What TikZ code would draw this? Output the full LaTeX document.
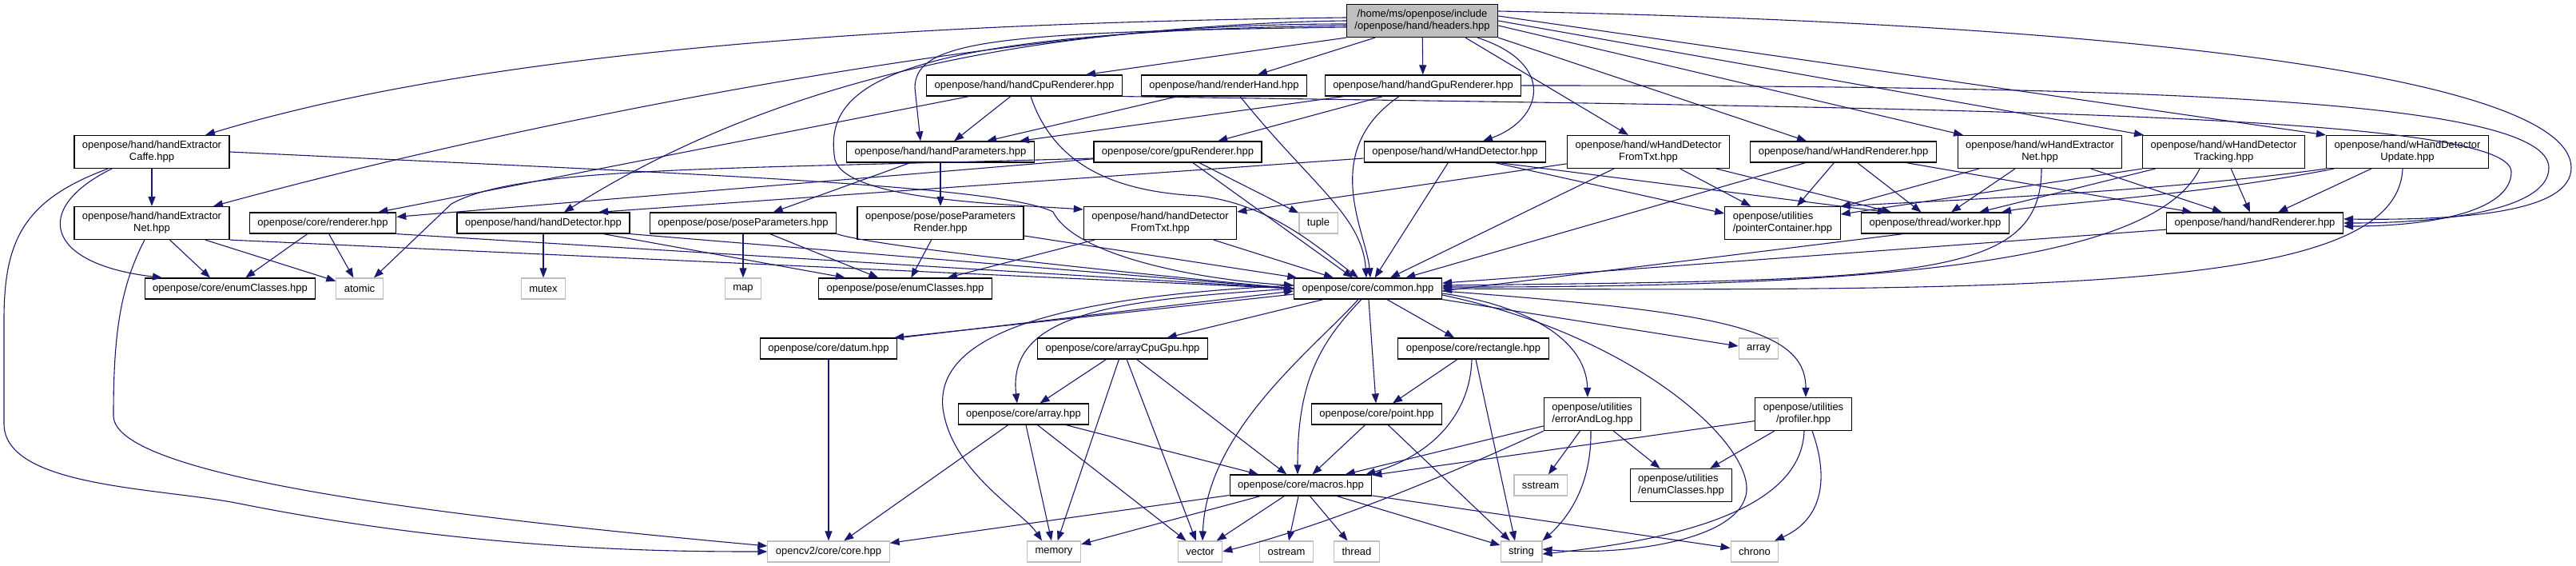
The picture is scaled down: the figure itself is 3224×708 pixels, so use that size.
\documentclass[tikz,border=0pt]{standalone}
\usepackage{fontspec}
\setsansfont{Liberation Sans}
\usetikzlibrary{arrows.meta}
\definecolor{cnavy}{HTML}{191970}
\definecolor{cgrey}{HTML}{BFBFBF}
\tikzset{
  every picture/.style={font=\sffamily\fontsize{13}{15}\selectfont},
  file/.style={draw=black, fill=white, line width=1.2pt, inner xsep=10pt, inner ysep=3pt, minimum height=26pt, align=center},
  twoline/.style={file, minimum height=41pt},
  sysfile/.style={file, draw=cgrey},
  rootfile/.style={twoline, fill=cgrey},
  inc/.style={-{Triangle[length=12pt, width=9pt]}, draw=cnavy, line width=1.1pt},
}

\begin{document}
\begin{tikzpicture}[x=1pt, y=1pt]
  \useasboundingbox (0,0) rectangle (3224,-708);

  % the header itself
  \node[rootfile] (H) at (1780,-26) {/home/ms/openpose/include\\/openpose/hand/headers.hpp};

  % hand and pose headers
  \node[file] (hcr) at (1282,-107) {openpose/hand/handCpuRenderer.hpp};
  \node[file] (rh) at (1532,-107) {openpose/hand/renderHand.hpp};
  \node[file] (hgr) at (1781,-107) {openpose/hand/handGpuRenderer.hpp};
  \node[twoline] (hec) at (190,-190) {openpose/hand/handExtractor\\Caffe.hpp};
  \node[file] (hp) at (1177,-190) {openpose/hand/handParameters.hpp};
  \node[file] (gr) at (1474,-190) {openpose/core/gpuRenderer.hpp};
  \node[file] (whd) at (1821,-190) {openpose/hand/wHandDetector.hpp};
  \node[twoline] (whdft) at (2063,-190) {openpose/hand/wHandDetector\\FromTxt.hpp};
  \node[file] (whr) at (2307,-190) {openpose/hand/wHandRenderer.hpp};
  \node[twoline] (when) at (2553,-190) {openpose/hand/wHandExtractor\\Net.hpp};
  \node[twoline] (whdt) at (2783,-190) {openpose/hand/wHandDetector\\Tracking.hpp};
  \node[twoline] (whdu) at (3013,-190) {openpose/hand/wHandDetector\\Update.hpp};
  \node[twoline] (hen) at (190,-279) {openpose/hand/handExtractor\\Net.hpp};
  \node[file] (rd) at (404,-279) {openpose/core/renderer.hpp};
  \node[file] (hd) at (680,-279) {openpose/hand/handDetector.hpp};
  \node[file] (pp) at (930,-279) {openpose/pose/poseParameters.hpp};
  \node[twoline] (ppr) at (1177,-279) {openpose/pose/poseParameters\\Render.hpp};
  \node[twoline] (hdft) at (1452,-279) {openpose/hand/handDetector\\FromTxt.hpp};
  \node[sysfile] (tup) at (1650,-279) {tuple};
  \node[twoline, align=left] (pc) at (2231,-279) {openpose/utilities\\/pointerContainer.hpp};
  \node[file] (wk) at (2422,-279) {openpose/thread/worker.hpp};
  \node[file] (hr) at (2822,-279) {openpose/hand/handRenderer.hpp};

  % core headers
  \node[file] (ec) at (288,-361) {openpose/core/enumClasses.hpp};
  \node[sysfile] (atomic) at (450,-361) {atomic};
  \node[sysfile] (mutex) at (680,-361) {mutex};
  \node[sysfile] (map) at (930,-361) {map};
  \node[file] (pec) at (1133,-361) {openpose/pose/enumClasses.hpp};
  \node[file] (cm) at (1712,-361) {openpose/core/common.hpp};
  \node[file] (dm) at (1037,-436) {openpose/core/datum.hpp};
  \node[file] (acg) at (1405,-436) {openpose/core/arrayCpuGpu.hpp};
  \node[file] (rc) at (1844,-436) {openpose/core/rectangle.hpp};
  \node[sysfile] (sar) at (2201,-436) {array};
  \node[file] (ar) at (1281,-518) {openpose/core/array.hpp};
  \node[file] (pt) at (1723,-518) {openpose/core/point.hpp};
  \node[twoline, align=left] (el) at (1993,-518) {openpose/utilities\\/errorAndLog.hpp};
  \node[twoline] (pf) at (2257,-518) {openpose/utilities\\/profiler.hpp};
  \node[file] (mc) at (1628,-607) {openpose/core/macros.hpp};
  \node[sysfile] (ss) at (1928,-607) {sstream};
  \node[twoline, align=left] (uec) at (2104,-607) {openpose/utilities\\/enumClasses.hpp};

  % system headers at the bottom
  \node[sysfile] (cv) at (1037,-690) {opencv2/core/core.hpp};
  \node[sysfile] (mem) at (1319,-690) {memory};
  \node[sysfile] (vec) at (1502,-690) {vector};
  \node[sysfile] (ost) at (1610,-690) {ostream};
  \node[sysfile] (thr) at (1698,-690) {thread};
  \node[sysfile] (str) at (1904,-690) {string};
  \node[sysfile] (ch) at (2196,-690) {chrono};

  % plain includes
  \foreach \a/\b in {hec/hen, hen/atomic, rd/ec, rd/atomic, hd/mutex, hd/pec, pp/map, pp/pec,
      ppr/pec, ppr/cm, hdft/pec, hdft/cm, hp/pp, hp/ppr, hcr/hp, hcr/rd, rh/hp, hgr/hp, hgr/gr,
      H/hgr, gr/rd, gr/tup, gr/cm, whd/cm, whdft/hdft, whdft/cm, whdft/pc, whdft/wk, whr/cm,
      whr/pc, whr/wk, whr/hr, when/pc, when/wk, when/hr, whdt/wk, whdt/hr, whdu/hr, hr/cm,
      cm/acg, cm/pt, cm/rc, dm/cv, acg/ar, acg/mem, acg/vec, acg/mc, ar/cv, ar/mem, ar/vec,
      ar/mc, pt/mc, pt/str, rc/pt, el/mc, el/ss, el/uec, pf/mc, pf/uec, mc/cv, mc/mem, mc/vec,
      mc/ost, mc/thr, mc/str, mc/ch}
    \draw[inc] (\a) -- (\b);

  % from the header
  \draw[inc] ([yshift=4pt]H.west) .. controls (1000,-30) and (550,-80) .. ([xshift=67pt]hec.north);
  \draw[inc] (H.west) .. controls (1300,-30) and (700,-140) .. ([xshift=77pt]hen.north);
  \draw[inc] ([yshift=-4pt]H.west) .. controls (1350,-30) and (1000,-80) .. ([xshift=26pt]hd.north);
  \draw[inc] ([yshift=-8pt]H.west) .. controls (1250,-40) and (1145,-50) .. (1145,-110) -- ([xshift=-25pt]hp.north);
  \draw[inc] ([yshift=-6pt]H.west) .. controls (1100,-40) and (1030,-110) .. (1045,-200)
    .. controls (1060,-250) and (1250,-255) .. ([yshift=17pt]hdft.west);
  \draw[inc] (H.south west) -- ([xshift=77pt]hcr.north);
  \draw[inc] ([xshift=-59pt]H.south) -- ([xshift=42pt]rh.north);
  \draw[inc] ([xshift=69pt]H.south) .. controls (1950,-80) and (1930,-150) .. ([xshift=35pt]whd.north);
  \draw[inc] ([xshift=54pt]H.south) -- ([xshift=-25pt]whdft.north);
  \draw[inc] (H.south east) -- ([xshift=-46pt]whr.north);
  \draw[inc] ([yshift=-6pt]H.east) -- ([xshift=-96pt]when.north);
  \draw[inc] (H.east) -- ([xshift=-100pt]whdt.north);
  \draw[inc] ([yshift=6pt]H.east) -- (whdu.north west);
  \draw[inc] ([yshift=12pt]H.east) .. controls (2700,-30) and (3218,-100) .. (3218,-210)
    .. controls (3218,-262) and (3100,-276) .. ([yshift=5pt]hr.east);

  % long ways round
  \draw[inc] (hgr.east) .. controls (2700,-107) and (3190,-125) .. (3190,-210)
    .. controls (3190,-262) and (3060,-279) .. (hr.east);
  \draw[inc] (hcr.south east) .. controls (2400,-135) and (3143,-140) .. (3143,-215)
    .. controls (3143,-265) and (3040,-283) .. ([yshift=-4pt]hr.east);
  \draw[inc] ([xshift=-50pt]hec.south) .. controls (40,-260) and (55,-330) .. ([xshift=-85pt]ec.north);
  \draw[inc] ([xshift=-55pt]hec.south) .. controls (30,-250) and (5,-300) .. (5,-400) -- (5,-530)
    .. controls (5,-610) and (200,-610) .. (300,-630) .. controls (600,-690) and (850,-690) .. (cv.west);
  \draw[inc] ([xshift=-9pt]hen.south) .. controls (150,-360) and (142,-420) .. (142,-520)
    .. controls (142,-600) and (600,-650) .. ([yshift=7pt]cv.west);
  \draw[inc] (hec.east) .. controls (800,-215) and (1250,-230) .. (1318,-265)
    .. controls (1345,-320) and (1500,-350) .. ([yshift=4pt]cm.west);
  \draw[inc] (hen) -- ([xshift=-25pt]ec.north);
  \draw[inc] (hen.south east) -- (cm.west);
  \draw[inc] (rd.south east) -- (cm.west);
  \draw[inc] (hd.south east) -- (cm.west);
  \draw[inc] (pp.south east) .. controls (1100,-310) and (1450,-345) .. (cm.west);
  \draw[inc] ([yshift=-8pt]gr.west) .. controls (900,-212) and (650,-208) .. (565,-255) -- ([xshift=18pt]atomic.north);
  \draw[inc] ([xshift=8pt]hcr.south) .. controls (1320,-210) and (1400,-240) .. (1500,-245)
    .. controls (1590,-255) and (1650,-310) .. ([xshift=-12pt]cm.north);
  \draw[inc] ([xshift=20pt]rh.south) .. controls (1640,-230) and (1705,-270) .. ([xshift=-2pt]cm.north);
  \draw[inc] ([xshift=-30pt]hgr.south) .. controls (1650,-190) and (1710,-290) .. ([xshift=3pt]cm.north);

  % hand workers
  \draw[inc] (whd) -- ([xshift=69pt]hd.north);
  \draw[inc] ([xshift=50pt]whd.south) -- ([yshift=12pt]pc.west);
  \draw[inc] ([xshift=55pt]whd.south) -- ([xshift=-60pt]wk.north);
  \draw[inc] ([xshift=2pt]when.south) .. controls (2555,-350) and (2400,-350) .. ([yshift=4pt]cm.east);
  \draw[inc] (whdt.south west) -- (pc);
  \draw[inc] ([xshift=-30pt]whdt.south) .. controls (2700,-320) and (2400,-360) .. ([yshift=2pt]cm.east);
  \draw[inc] (whdu.south west) .. controls (2700,-240) and (2450,-250) .. (pc.north east);
  \draw[inc] ([xshift=10pt]whdu.south west) .. controls (2750,-245) and (2560,-255) .. ([xshift=-10pt]wk.north east);
  \draw[inc] ([xshift=-6pt]whdu.south) .. controls (3000,-360) and (2600,-365) .. (cm.east);
  \draw[inc] ([xshift=-40pt]wk.south) -- ([yshift=-3pt]cm.east);

  % below common.hpp
  \draw[inc] ([yshift=-7pt]cm.west) -- ([xshift=-4pt]dm.north east);
  \draw[inc] ([xshift=4pt]dm.north east) -- ([yshift=-3pt]cm.west);
  \draw[inc] (cm.west) .. controls (1400,-375) and (1260,-390) .. ([xshift=-8pt]ar.north);
  \draw[inc] ([yshift=4pt]cm.west) .. controls (1350,-370) and (1170,-410) .. (1180,-510)
    .. controls (1190,-590) and (1280,-640) .. ([xshift=-15pt]mem.north);
  \draw[inc] ([xshift=-12pt]cm.south) .. controls (1640,-440) and (1510,-540) .. ([xshift=3pt]vec.north);
  \draw[inc] ([xshift=-8pt]cm.south) .. controls (1650,-430) and (1624,-480) .. ([xshift=-4pt]mc.north);
  \draw[inc] ([yshift=-6pt]cm.east) .. controls (1900,-380) and (1985,-420) .. ([xshift=-6pt]el.north);
  \draw[inc] ([yshift=-8pt]cm.east) .. controls (2050,-420) and (2200,-560) .. (2185,-620)
    .. controls (2170,-680) and (2020,-695) .. ([yshift=3pt]str.east);
  \draw[inc] (cm.south east) -- ([yshift=3pt]sar.west);
  \draw[inc] ([yshift=-3pt]cm.east) .. controls (2150,-390) and (2260,-410) .. ([xshift=3pt]pf.north);
  \draw[inc] ([xshift=-2pt]rc.south) .. controls (1840,-520) and (1790,-570) .. ([xshift=-8pt]mc.north east);
  \draw[inc] ([xshift=3pt]rc.south) -- ([xshift=-8pt]str.north);
  \draw[inc] (el.south west) .. controls (1800,-600) and (1650,-660) .. (vec.east);
  \draw[inc] ([xshift=-2pt]el.south) .. controls (1992,-610) and (1960,-650) .. (str.north east);
  \draw[inc] ([xshift=1pt]pf.south) .. controls (2255,-620) and (2150,-670) .. ([yshift=-3pt]str.east);
  \draw[inc] ([xshift=11pt]pf.south) .. controls (2290,-600) and (2280,-650) .. ([xshift=25pt]ch.north);
\end{tikzpicture}
\end{document}
